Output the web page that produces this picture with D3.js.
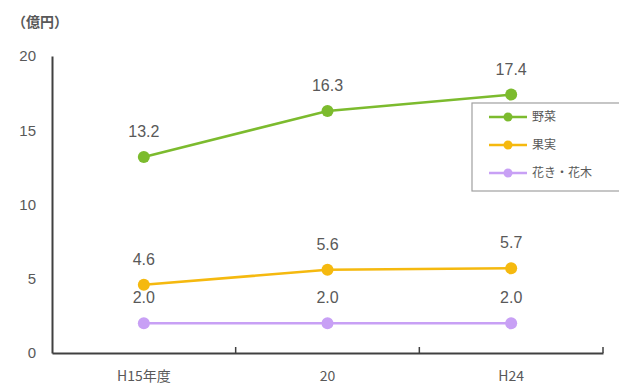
<!DOCTYPE html>
<html>
<head>
<meta charset="utf-8">
<style>
  body { margin: 0; background: #fff; }
  text { font-family: "Noto Sans CJK JP", "Liberation Sans", sans-serif; fill: #595959; }
</style>
</head>
<body>
<svg width="619" height="388"></svg>
<script src="https://cdn.jsdelivr.net/npm/d3@7"></script>
<script>
var categories = ['H15年度', '20', 'H24'];
var vegetables = [13.2, 16.3, 17.4];
var fruits = [4.6, 5.6, 5.7];
var flowers = [2.0, 2.0, 2.0];
var seriesNames = ['野菜', '果実', '花き・花木'];
var seriesColors = ['#7cbb2e', '#f5b90f', '#c8a0f5'];
var yTicks = [0, 5, 10, 15, 20];

var series = [vegetables, fruits, flowers].map(function(v, i) {
  return { name: seriesNames[i], color: seriesColors[i], values: v };
});

var svg = d3.select('svg');

var x = d3.scaleBand().domain(categories).range([52, 603]);
var y = d3.scaleLinear().domain([0, 20]).range([353, 56]);

// unit label
svg.append('text').attr('x', 12).attr('y', 27)
   .style('font-size', '14px').style('font-weight', 'bold')
   .text('（億円）');

// y axis
var yAxis = svg.append('g').attr('transform', 'translate(52,0)')
   .call(d3.axisLeft(y).tickValues(yTicks).tickSize(0).tickPadding(16));
yAxis.select('.domain').attr('stroke', '#404040').attr('stroke-width', 2);
yAxis.selectAll('text').style('font-size', '15px').style('font-family', '"Liberation Sans", sans-serif').attr('fill', '#595959');

// x axis
var xAxis = svg.append('g').attr('transform', 'translate(0,353)')
   .call(d3.axisBottom(x).tickSize(0).tickPadding(18));
xAxis.select('.domain').attr('stroke', '#404040').attr('stroke-width', 2);
xAxis.selectAll('text').style('font-size', '14px').attr('fill', '#595959');

// category boundary ticks
xAxis.selectAll('line.sep')
   .data(categories.slice(1))
   .enter().append('line')
   .attr('class', 'sep')
   .attr('x1', function(d) { return x(d); })
   .attr('x2', function(d) { return x(d); })
   .attr('y1', 0).attr('y2', -6)
   .attr('stroke', '#404040').attr('stroke-width', 1.5);
xAxis.append('line')
   .attr('x1', x.range()[1]).attr('x2', x.range()[1])
   .attr('y1', 0).attr('y2', -6)
   .attr('stroke', '#404040').attr('stroke-width', 1.5);

var cx = function(d, i) { return x(categories[i]) + x.bandwidth() / 2; };

var line = d3.line()
   .x(function(d, i) { return cx(d, i); })
   .y(function(d) { return y(d); });

var g = svg.selectAll('g.series')
   .data(series)
   .enter().append('g')
   .attr('class', 'series');

g.append('path')
   .attr('d', function(s) { return line(s.values); })
   .attr('fill', 'none')
   .attr('stroke', function(s) { return s.color; })
   .attr('stroke-width', 2.5);

g.each(function(s) {
  var sel = d3.select(this);
  sel.selectAll('circle')
     .data(s.values)
     .enter().append('circle')
     .attr('cx', cx)
     .attr('cy', function(d) { return y(d); })
     .attr('r', 6)
     .attr('fill', s.color);
  sel.selectAll('text.val')
     .data(s.values)
     .enter().append('text')
     .attr('class', 'val')
     .attr('x', cx)
     .attr('y', function(d) { return y(d) - 20; })
     .attr('text-anchor', 'middle')
     .style('font-size', '16px')
     .style('font-family', '"Liberation Sans", sans-serif')
     .text(function(d) { return d.toFixed(1); });
});

// legend
var legend = svg.append('g').attr('transform', 'translate(472,103)');
legend.append('rect')
   .attr('width', 160).attr('height', 88)
   .attr('fill', '#fff').attr('stroke', '#a0a0a0').attr('stroke-width', 1.2);
var item = legend.selectAll('g.item')
   .data(series)
   .enter().append('g')
   .attr('class', 'item')
   .attr('transform', function(d, i) { return 'translate(0,' + (14 + i * 28) + ')'; });
item.append('line')
   .attr('x1', 17).attr('x2', 55)
   .attr('stroke', function(d) { return d.color; })
   .attr('stroke-width', 2.5);
item.append('circle')
   .attr('cx', 36).attr('r', 4.5)
   .attr('fill', function(d) { return d.color; });
item.append('text')
   .attr('x', 60).attr('dy', '0.35em')
   .style('font-size', '12px')
   .attr('fill', '#404040')
   .text(function(d) { return d.name; });
</script>
</body>
</html>
